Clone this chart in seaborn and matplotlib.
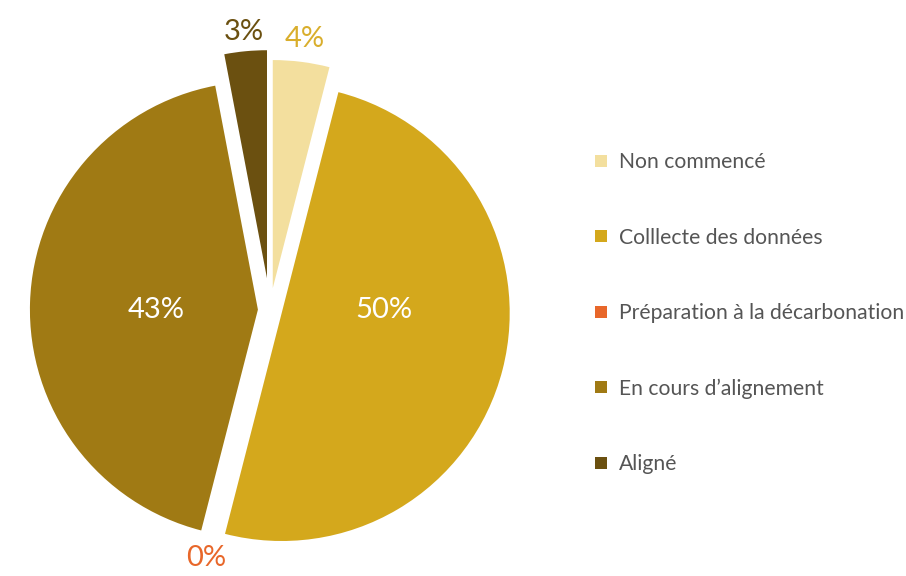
import numpy as np
import matplotlib
matplotlib.use("Agg")
import matplotlib.pyplot as plt
from matplotlib.lines import Line2D
import seaborn as sns

categories = ["Non commencé", "Colllecte des données", "Préparation à la décarbonation",
              "En cours d\u2019alignement", "Aligné"]
values = [4, 50, 0, 43, 3]
pct_labels = ["4%", "50%", "0%", "43%", "3%"]
colors = ["#F3DF9E", "#D4A81C", "#E8672A", "#A07A14", "#6B5010"]
label_colors = ["#D9AE2C", "#FFFFFF", "#E8672A", "#FFFFFF", "#6B5010"]
explode = [0.097, 0.053, 0.10, 0.053, 0.14]
label_dist = [1.20, 0.50, 1.125, 0.50, 1.225]

sns.set_theme(style="white")
plt.rcParams["font.family"] = ["Lato", "DejaVu Sans"]

W, H = 906, 576
fig = plt.figure(figsize=(W / 100, H / 100), dpi=100)

R_px = 228
L = 1.35
S = 2 * L * R_px
cx, cy = 270, 310
ax = fig.add_axes([(cx - S / 2) / W, (H - cy - S / 2) / H, S / W, S / H])

wedges, _ = ax.pie(values, colors=colors, startangle=90, counterclock=False,
                   explode=explode, radius=1.0,
                   wedgeprops=dict(linewidth=0, edgecolor="white"))
ax.set_xlim(-L, L)
ax.set_ylim(-L, L)
ax.set_aspect("equal")
ax.axis("off")

for w, lab, lc, d, v in zip(wedges, pct_labels, label_colors, label_dist, values):
    mid = np.deg2rad((w.theta1 + w.theta2) / 2)
    if v >= 10:
        x, y = np.sign(np.cos(mid)) * d, 0
    else:
        x, y = d * np.cos(mid), d * np.sin(mid)
    ax.text(x, y, lab, ha="center", va="center", color=lc,
            fontsize=21, fontweight="normal")

handles = [Line2D([0], [0], marker="s", linestyle="", markersize=8.6,
                  markerfacecolor=c, markeredgewidth=0) for c in colors]
leg = fig.legend(handles, categories, loc="upper left",
                 bbox_to_anchor=(583 / W, 1 - 144 / H), frameon=False,
                 fontsize=15.2, labelspacing=2.62, handletextpad=0.42,
                 handlelength=0.9, borderaxespad=0)
for t in leg.get_texts():
    t.set_color("#555555")

fig.savefig("out.png", dpi=100)
